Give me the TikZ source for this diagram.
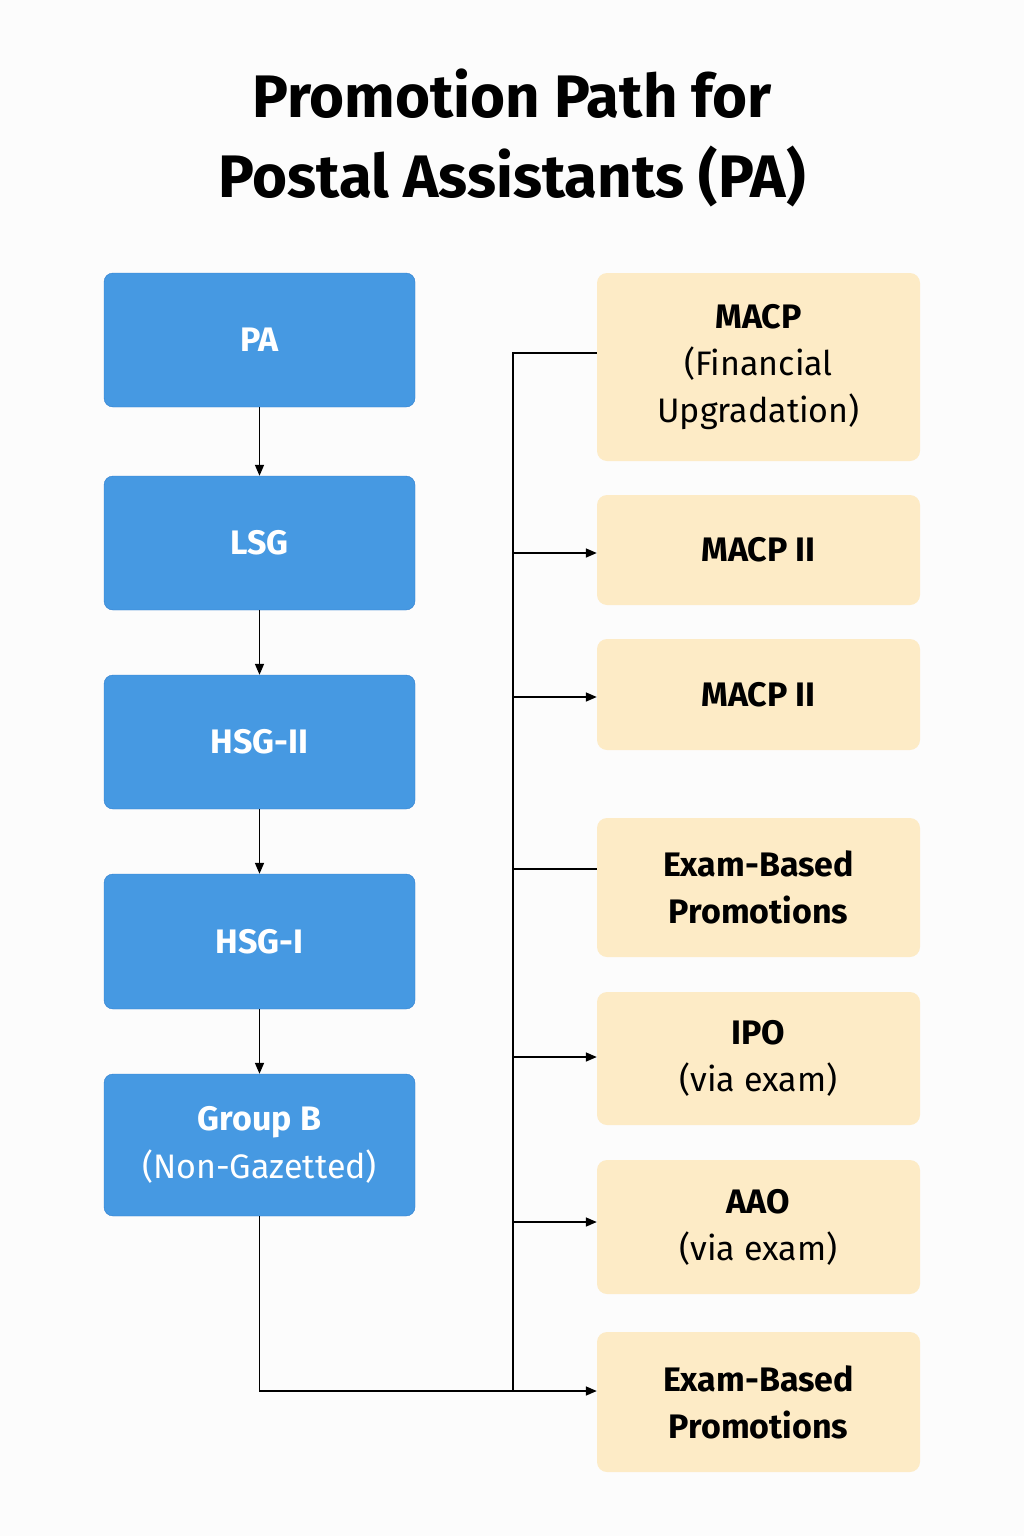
\documentclass[tikz,border=0pt]{standalone}
\usepackage{fontspec}
\setmainfont{Fira Sans}
\usetikzlibrary{arrows.meta}
\definecolor{bluebox}{HTML}{4699E2}
\definecolor{blueedge}{HTML}{2F7FD0}
\definecolor{creambox}{HTML}{FDEBC6}
\begin{document}
\begin{tikzpicture}[x=1pt,y=-1pt,
 blue/.style={draw=blueedge,fill=bluebox,rounded corners=9pt,minimum width=311pt,text=white,align=center,font=\fontsize{34}{44}\selectfont\bfseries,inner sep=0pt},
 cream/.style={fill=creambox,rounded corners=10pt,minimum width=323pt,align=center,font=\fontsize{34}{47}\selectfont,inner sep=0pt},
 ln/.style={line width=1.6pt,black},
 arr/.style={ln,-{Triangle[length=11pt,width=9pt]}}]
\useasboundingbox[fill=white!98!gray] (0,0) rectangle (1024,1536);
\node[font=\fontsize{60}{80}\selectfont\bfseries,align=center] (title) at (512,138) {Promotion Path for\\Postal Assistants (PA)};
\node[blue,minimum height=134pt] (pa) at (259.5,340) {PA};
\node[blue,minimum height=134pt] (lsg) at (259.5,543) {LSG};
\node[blue,minimum height=134pt] (h2) at (259.5,742) {HSG-II};
\node[blue,minimum height=135pt] (h1) at (259.5,941.5) {HSG-I};
\node[blue,minimum height=142pt,font=\fontsize{34}{48}\selectfont] (gb) at (259.5,1145) {\textbf{Group B}\\(Non-Gazetted)};
\node[cream,minimum height=188pt] (m1) at (758.5,367) {\textbf{MACP}\\(Financial\\Upgradation)};
\node[cream,minimum height=110pt] (m2) at (758.5,550) {\textbf{MACP II}};
\node[cream,minimum height=111pt] (m3) at (758.5,694.5) {\textbf{MACP II}};
\node[cream,minimum height=139pt] (e1) at (758.5,887.5) {\textbf{Exam-Based}\\\textbf{Promotions}};
\node[cream,minimum height=133pt] (ipo) at (758.5,1058.5) {\textbf{IPO}\\(via exam)};
\node[cream,minimum height=134pt] (aao) at (758.5,1227) {\textbf{AAO}\\(via exam)};
\node[cream,minimum height=140pt] (e2) at (758.5,1402) {\textbf{Exam-Based}\\\textbf{Promotions}};
\draw[arr] (pa) -- (lsg);
\draw[arr] (lsg) -- (h2);
\draw[arr] (h2) -- (h1);
\draw[arr] (h1) -- (gb);
\coordinate (top) at (513,353);
\coordinate (bot) at (513,1391);
\draw[ln] (m1.west |- top) -- (top) -- (bot);
\draw[arr] (513,553) -- (m2.west |- 0,553);
\draw[arr] (513,697) -- (m3.west |- 0,697);
\draw[ln] (513,869) -- (e1.west |- 0,869);
\draw[arr] (513,1057) -- (ipo.west |- 0,1057);
\draw[arr] (513,1222) -- (aao.west |- 0,1222);
\draw[arr] (gb.south) |- (e2.west |- bot);
\end{tikzpicture}
\end{document}
